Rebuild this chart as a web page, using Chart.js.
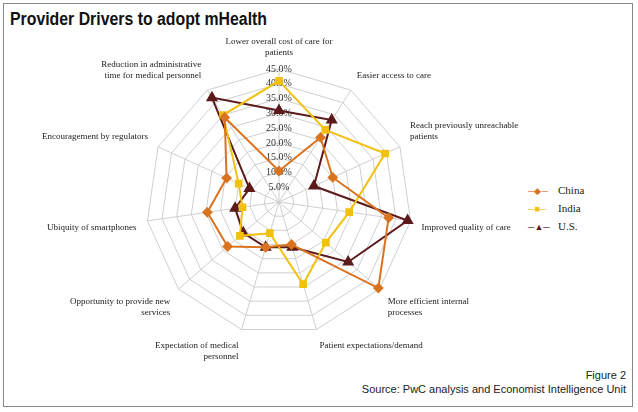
<!DOCTYPE html>
<html>
<head>
<meta charset="utf-8">
<script src="https://cdn.jsdelivr.net/npm/chart.js@4"></script>
<style>
  body { margin: 0; background: #fff; width: 638px; height: 412px; overflow: hidden; }
  #frame { position: absolute; left: 3px; top: 3px; width: 630px; height: 404px; border: 1px solid #888; box-sizing: border-box; }
  #title { position: absolute; left: 10px; top: 9px; font: bold 18px "Liberation Sans Narrow", "Liberation Sans", Arial, sans-serif; color: #111; transform: scaleX(0.88); transform-origin: left; }
  #wrap { position: absolute; left: 41px; top: 33px; width: 480px; height: 334px; }
  #legend { position: absolute; left: 528px; top: 182px; font: 11px "Liberation Serif", serif; color: #222; line-height: 17px; }
  #legend span { display: inline-block; width: 30px; vertical-align: middle; font-size: 9px; }
  #foot { position: absolute; right: 12px; top: 368px; text-align: right; font: 11px "Liberation Sans Narrow", "Liberation Sans", sans-serif; color: #222; line-height: 14px; }
</style>
</head>
<body>
<div id="frame"></div>
<div id="title">Provider Drivers to adopt mHealth</div>
<div id="wrap"><canvas id="radar"></canvas></div>
<div id="legend">
  <div><span style="color:#d9731f">&#9472;&#9670;&#9472;</span>China</div>
  <div><span style="color:#f2c011">&#9472;&#9632;&#9472;</span>India</div>
  <div><span style="color:#5c1a1a">&#9472;&#9650;&#9472;</span>U.S.</div>
</div>
<div id="foot">Figure 2<br>Source: PwC analysis and Economist Intelligence Unit</div>
<script>
// Kategori searah jarum jam mulai dari atas
const categories = [
    ['Lower overall cost of care for', 'patients'],
    'Easier access to care',
    ['Reach previously unreachable', 'patients'],
    'Improved quality of care',
    ['More efficient internal', 'processes'],
    'Patient expectations/demand',
    ['Expectation of medical', 'personnel'],
    ['Opportunity to provide new', 'services'],
    'Ubiquity of smartphones',
    'Encouragement by regulators',
    ['Reduction in administrative', 'time for medical personnel']
];

const china = [10.5, 26, 20, 37.5, 44.5, 15, 16, 23, 24.5, 19.5, 34];
const india = [41, 29, 39.5, 24, 21, 29, 11, 17.5, 12.5, 15, 35];
const us    = [31, 33, 13, 44, 31, 16, 16, 16, 15, 11, 42];

const tickMax = 45;
const tickStep = 5;

function seri(label, data, color, style) {
    return {
        label, data,
        borderColor: color, backgroundColor: color,
        pointBackgroundColor: color, pointBorderColor: color,
        pointStyle: style, pointRadius: style === 'triangle' ? 5 : 4,
        borderWidth: 2, fill: false
    };
}

new Chart(document.getElementById('radar'), {
    type: 'radar',
    data: {
        labels: categories,
        datasets: [
            seri('China', china, '#d9731f', 'rectRot'),
            seri('India', india, '#f2c011', 'rect'),
            seri('U.S.', us, '#5c1a1a', 'triangle')
        ]
    },
    options: {
        responsive: true,
        maintainAspectRatio: false,
        animation: false,
        layout: { padding: 0 },
        plugins: { legend: { display: false }, tooltip: { enabled: false } },
        scales: {
            r: {
                min: 0, max: tickMax,
                ticks: {
                    stepSize: tickStep,
                    backdropColor: 'rgba(0,0,0,0)',
                    color: '#333',
                    font: { family: 'Liberation Serif', size: 10 },
                    callback: v => v.toFixed(1) + '%'
                },
                grid: { color: '#cfcfcf' },
                angleLines: { color: '#cfcfcf' },
                pointLabels: { color: '#222', font: { family: 'Liberation Serif', size: 9 }, padding: 4 }
            }
        }
    }
});
</script>
</body>
</html>
